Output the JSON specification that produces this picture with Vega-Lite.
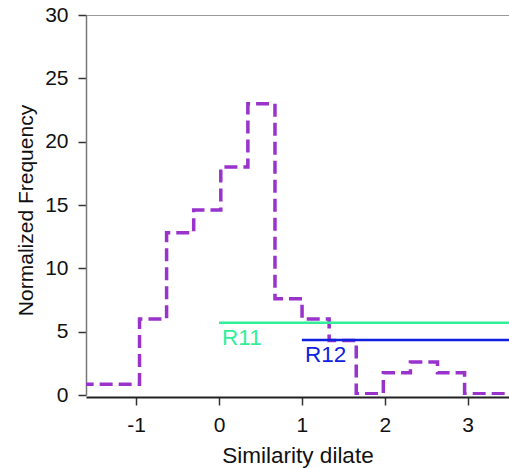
{
  "$schema": "https://vega.github.io/schema/vega-lite/v6.json",
  "width": 423,
  "height": 380,
  "autosize": "none",
  "padding": {"left": 86, "top": 15, "right": 0, "bottom": 73},
  "background": "white",
  "config": {
    "font": "Liberation Sans",
    "view": {"stroke": null},
    "axis": {"grid": false, "labelFont": "Liberation Sans", "titleFont": "Liberation Sans", "labelColor": "#111111", "titleColor": "#111111", "titleFontWeight": "normal"}
  },
  "datasets": {
    "hist": [
      {"x": -1.9, "y": 0.85},
      {"x": -0.96, "y": 6.0},
      {"x": -0.633, "y": 12.8},
      {"x": -0.306, "y": 14.6},
      {"x": 0.021, "y": 18.0},
      {"x": 0.348, "y": 23.0},
      {"x": 0.675, "y": 7.6},
      {"x": 1.002, "y": 6.0},
      {"x": 1.329, "y": 4.3},
      {"x": 1.656, "y": 0.1},
      {"x": 1.983, "y": 1.75},
      {"x": 2.31, "y": 2.6},
      {"x": 2.637, "y": 1.75},
      {"x": 2.964, "y": 0.1},
      {"x": 4.0, "y": 0.1}
    ],
    "refs": [
      {"label": "R11", "x": 0, "x2": 4, "y": 5.7},
      {"label": "R12", "x": 1, "x2": 4, "y": 4.35}
    ],
    "border": [
      {"x": -2, "x2": 4, "y": 30}
    ]
  },
  "layer": [
    {
      "data": {"name": "border"},
      "mark": {"type": "rule", "color": "#777777", "strokeWidth": 1.5, "clip": true},
      "encoding": {
        "x": {"field": "x", "type": "quantitative"},
        "x2": {"field": "x2"},
        "y": {"field": "y", "type": "quantitative"}
      }
    },
    {
      "data": {"name": "hist"},
      "mark": {"type": "line", "interpolate": "step-after", "color": "#9933CC", "strokeWidth": 3.5, "strokeDash": [13, 6], "clip": true},
      "encoding": {
        "x": {
          "field": "x", "type": "quantitative",
          "scale": {"domain": [-1.606, 3.5], "nice": false, "zero": false},
          "axis": {
            "title": "Similarity dilate", "values": [-1, 0, 1, 2, 3],
            "labelExpr": "'' + datum.value",
            "domainColor": "#222222", "domainWidth": 2, "offset": 2,
            "tickColor": "#333333", "tickSize": 8, "tickWidth": 1.5,
            "labelFontSize": 21, "labelPadding": 9,
            "titleFontSize": 22.5, "titleBaseline": "alphabetic", "titleY": 65
          }
        },
        "y": {
          "field": "y", "type": "quantitative",
          "scale": {"domain": [0, 30], "nice": false},
          "axis": {
            "title": "Normalized Frequency", "values": [0, 5, 10, 15, 20, 25, 30],
            "labelExpr": "'' + datum.value",
            "domainColor": "#777777", "domainWidth": 1.5,
            "tickColor": "#333333", "tickSize": 8, "tickWidth": 1.5,
            "labelFontSize": 21, "labelPadding": 10,
            "titleFontSize": 21, "titleAngle": -90, "titleBaseline": "alphabetic",
            "titleAlign": "center", "titleX": -54, "titleY": 195
          }
        }
      }
    },
    {
      "data": {"name": "refs"},
      "mark": {"type": "rule", "strokeWidth": 2.5, "clip": true},
      "encoding": {
        "x": {"field": "x", "type": "quantitative"},
        "x2": {"field": "x2"},
        "y": {"field": "y", "type": "quantitative"},
        "color": {"field": "label", "type": "nominal", "scale": {"domain": ["R11", "R12"], "range": ["#33EE99", "#1020E0"]}, "legend": null}
      }
    },
    {
      "data": {"name": "refs"},
      "mark": {"type": "text", "align": "left", "baseline": "alphabetic", "fontSize": 22.5, "dx": 3, "dy": 22},
      "encoding": {
        "x": {"field": "x", "type": "quantitative"},
        "y": {"field": "y", "type": "quantitative"},
        "text": {"field": "label"},
        "color": {"field": "label", "type": "nominal", "scale": {"domain": ["R11", "R12"], "range": ["#33EE99", "#1020E0"]}, "legend": null}
      }
    }
  ]
}
